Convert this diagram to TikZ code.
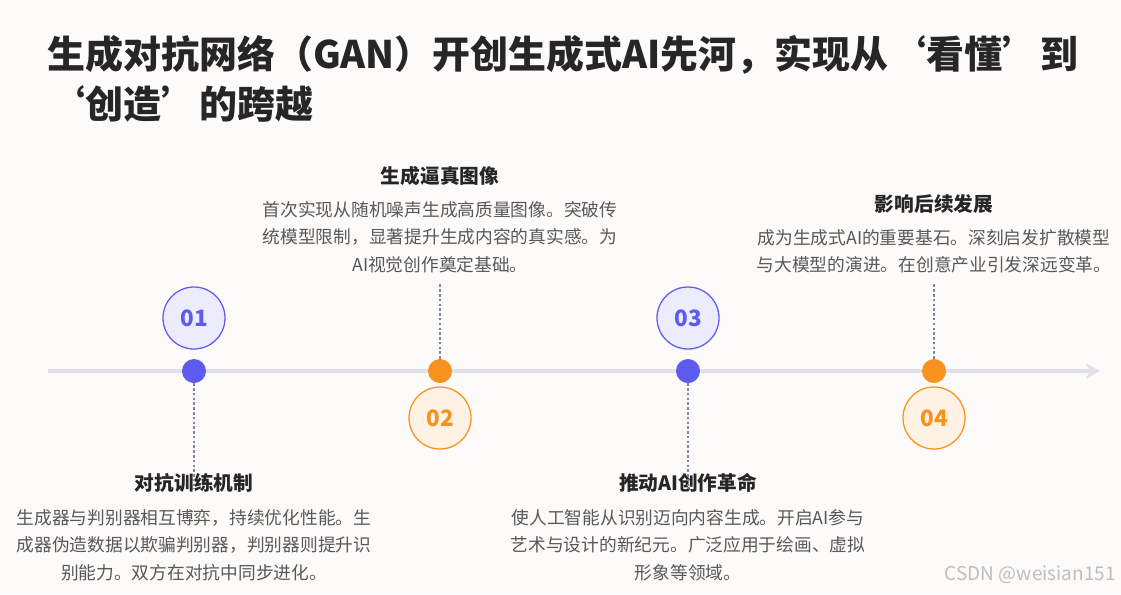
\documentclass[tikz,border=0pt]{standalone}
\usepackage{fontspec}
\setmainfont{Noto Sans CJK SC}
\usepackage{tikz}
\usetikzlibrary{
  positioning,
  arrows.meta
}
\definecolor{pagebg}{RGB}{253,251,250}
\definecolor{titletext}{RGB}{38,38,38}
\definecolor{desctext}{RGB}{88,88,88}
\definecolor{axiscolor}{RGB}{222,224,234}
\definecolor{bluemain}{RGB}{94,92,238}
\definecolor{bluebg}{RGB}{237,236,252}
\definecolor{orangemain}{RGB}{247,146,30}
\definecolor{orangebg}{RGB}{253,242,228}
\definecolor{guidecolor}{RGB}{130,134,152}
\definecolor{markcolor}{RGB}{190,190,190}
\tikzset{
  bluedot/.style={
    circle, fill=bluemain, minimum size=0.6cm, inner sep=0pt
  },
  orangedot/.style={
    circle, fill=orangemain, minimum size=0.6cm, inner sep=0pt
  },
  bluenum/.style={
    circle, draw=bluemain, fill=bluebg, line width=0.9pt,
    minimum size=1.55cm, inner sep=0pt, text=bluemain,
    font=\fontsize{16}{18}\selectfont\bfseries
  },
  orangenum/.style={
    circle, draw=orangemain, fill=orangebg, line width=0.9pt,
    minimum size=1.55cm, inner sep=0pt, text=orangemain,
    font=\fontsize{16}{18}\selectfont\bfseries
  },
  headnode/.style={
    inner sep=0pt, text=titletext,
    font=\fontsize{14}{16}\selectfont\bfseries
  },
  descnode/.style={
    inner sep=0pt, text=desctext, align=center,
    font=\fontsize{12.6}{19.5}\selectfont
  },
  guideline/.style={
    draw=guidecolor, line width=1.6pt, dash pattern=on 1.8pt off 1.6pt
  },
  axisarrow/.style={
    -{Stealth[length=10pt, width=11pt, inset=3pt]}, line width=2.6pt, draw=axiscolor
  }
}

\begin{document}
\begin{tikzpicture}[x=0.025cm, y=-0.025cm]

    % page
    \fill[pagebg] (0,0) rectangle (1121,594);
    \useasboundingbox (0,0) rectangle (1121,594);

    % title
    \node[anchor=north west, inner sep=0pt, align=left, text=titletext,
      font=\fontsize{27}{35.5}\selectfont\bfseries] (title) at (47,35)
      {生成对抗网络（GAN）开创生成式AI先河，实现从‘看懂’到\\‘创造’的跨越};

    % timeline
    \coordinate (axstart) at (48,371);
    \coordinate (axend) at (1100,371);
    \draw[axisarrow] (axstart) -- (axend);

    % Step 1
    \node[bluedot] (dot1) at (194,371) {};
    \node[bluenum] (n1) at (194,318) {01};
    \node[headnode] (h1) at (194,483) {对抗训练机制};
    \node[descnode] (t1) at (194,545) {生成器与判别器相互博弈，持续优化性能。生\\成器伪造数据以欺骗判别器，判别器则提升识\\别能力。双方在对抗中同步进化。};

    % Step 2
    \node[orangedot] (dot2) at (440,371) {};
    \node[orangenum] (n2) at (440,418) {02};
    \node[headnode] (h2) at (440,176) {生成逼真图像};
    \node[descnode] (t2) at (440,237) {首次实现从随机噪声生成高质量图像。突破传\\统模型限制，显著提升生成内容的真实感。为\\AI视觉创作奠定基础。};

    % Step 3
    \node[bluedot] (dot3) at (688,371) {};
    \node[bluenum] (n3) at (688,318) {03};
    \node[headnode] (h3) at (688,483) {推动AI创作革命};
    \node[descnode] (t3) at (688,545) {使人工智能从识别迈向内容生成。开启AI参与\\艺术与设计的新纪元。广泛应用于绘画、虚拟\\形象等领域。};

    % Step 4
    \node[orangedot] (dot4) at (934,371) {};
    \node[orangenum] (n4) at (934,418) {04};
    \node[headnode] (h4) at (934,204) {影响后续发展};
    \node[descnode] (t4) at (934,251) {成为生成式AI的重要基石。深刻启发扩散模型\\与大模型的演进。在创意产业引发深远变革。};

    % guides: dot -> text
    \draw[guideline] (dot1.south) -- ([yshift=-11pt]h1.north);
    \draw[guideline] (dot2.north) -- ([yshift=-7pt]t2.south);
    \draw[guideline] (dot3.south) -- ([yshift=-11pt]h3.north);
    \draw[guideline] (dot4.north) -- ([yshift=-7pt]t4.south);

    % watermark
    \node[anchor=east, inner sep=0pt, text=markcolor,
      font=\fontsize{13.5}{15}\selectfont] (mark) at (1116,575) {CSDN @weisian151};

  \end{tikzpicture}
\end{document}
